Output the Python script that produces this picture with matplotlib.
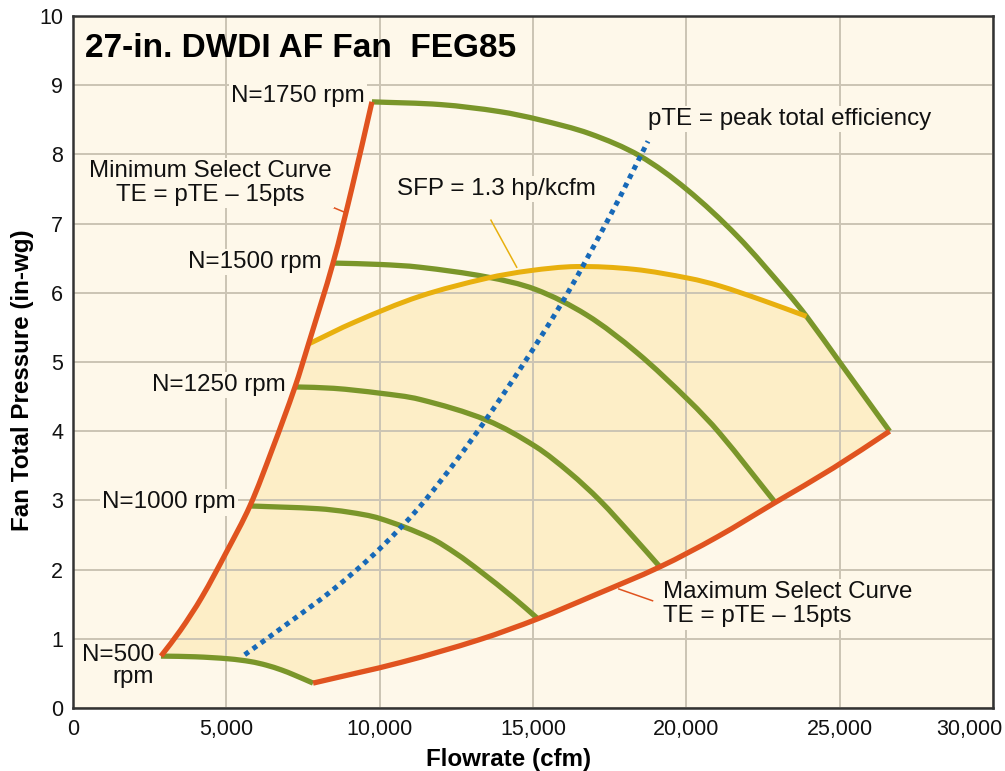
import matplotlib

matplotlib.use("Agg")
import matplotlib.pyplot as plt
import matplotlib.transforms as mtransforms
import numpy as np
from matplotlib.patches import PathPatch
from matplotlib.path import Path

plt.rcParams["font.family"] = ["Liberation Sans", "DejaVu Sans"]

BG = "#fef8ea"
FILL = "#fdeec7"
GRID = "#cbc4b4"
ORANGE = "#e0531f"
GREEN = "#7a962a"
GOLD = "#e8b00e"
BLUE = "#1769b8"

# minimum select curve (left boundary)
min_x = [2870, 3500, 4200, 5000, 5770, 6500, 7240, 7680, 8480, 9100, 9750]
min_y = [0.75, 1.12, 1.60, 2.25, 2.92, 3.74, 4.64, 5.26, 6.43, 7.52, 8.76]

# maximum select curve (right boundary)
max_x = [7830, 10700, 13270, 15160, 17000, 19140, 21000, 22900, 24800, 26630]
max_y = [0.36, 0.66, 0.99, 1.29, 1.63, 2.04, 2.47, 2.97, 3.47, 4.00]

# fan speed curves
n500_x = [2870, 4000, 5100, 5800, 6300, 6800, 7200, 7830]
n500_y = [0.75, 0.74, 0.71, 0.67, 0.62, 0.55, 0.48, 0.36]

n1000_x = [5770, 8000, 9000, 10000, 11640, 12500, 13270, 14350, 15160]
n1000_y = [2.92, 2.88, 2.83, 2.74, 2.46, 2.23, 1.98, 1.60, 1.29]

n1250_x = [7240, 8500, 10000, 11310, 13490, 15080, 16200, 17180, 18260, 19140]
n1250_y = [4.64, 4.62, 4.55, 4.46, 4.16, 3.78, 3.40, 3.00, 2.48, 2.04]

n1500_x = [8480, 10000, 11310, 13490, 15080, 16750, 18380, 20090, 21090, 22900]
n1500_y = [6.43, 6.41, 6.37, 6.23, 6.05, 5.68, 5.14, 4.44, 3.97, 2.97]

n1750_x = [9750, 12000, 13900, 15220, 16850, 18480, 20000, 21660, 23300, 23920, 25000, 26630]
n1750_y = [8.76, 8.72, 8.62, 8.50, 8.30, 7.98, 7.50, 6.82, 6.00, 5.66, 5.00, 4.00]

# specific fan power limit
sfp_x = [7680, 9200, 11310, 13490, 14900, 16420, 18300, 20090, 21090, 22500, 23920]
sfp_y = [5.26, 5.58, 5.95, 6.21, 6.32, 6.38, 6.34, 6.21, 6.10, 5.89, 5.66]

# peak total efficiency
pte_x = [5600, 7000, 8480, 10000, 11500, 13500, 15800, 17500, 18750]
pte_y = [0.77, 1.22, 1.71, 2.30, 3.01, 4.19, 5.75, 7.10, 8.19]

SPEEDS = [
    ("N=500\nrpm", n500_x, n500_y),
    ("N=1000 rpm", n1000_x, n1000_y),
    ("N=1250 rpm", n1250_x, n1250_y),
    ("N=1500 rpm", n1500_x, n1500_y),
    ("N=1750 rpm", n1750_x, n1750_y),
]

# rough screen aspect, used only to space the curve tangents evenly
SCREEN = np.array([1 / 32.6, 69.2])


def smooth(xs, ys):
    """Bezier path through the read points, chord-length Catmull-Rom tangents."""
    p = np.column_stack([xs, ys]).astype(float)
    n = len(p)
    seg = np.hypot(*((np.diff(p, axis=0) * SCREEN).T))
    t = np.concatenate([[0], np.cumsum(seg)])
    tang = np.zeros_like(p)
    tang[0] = (p[1] - p[0]) / (t[1] - t[0])
    tang[-1] = (p[-1] - p[-2]) / (t[-1] - t[-2])
    for i in range(1, n - 1):
        tang[i] = (p[i + 1] - p[i - 1]) / (t[i + 1] - t[i - 1])
    verts, codes = [p[0]], [Path.MOVETO]
    for i in range(n - 1):
        h = t[i + 1] - t[i]
        verts += [p[i] + tang[i] * h / 3, p[i + 1] - tang[i + 1] * h / 3, p[i + 1]]
        codes += [Path.CURVE4] * 3
    return verts, codes


def curve(ax, xs, ys, color, lw, **kw):
    verts, codes = smooth(xs, ys)
    ax.add_patch(PathPatch(Path(verts, codes), fill=False, edgecolor=color,
                           linewidth=lw, capstyle="butt", **kw))


fig = plt.figure(figsize=(10.05, 7.71), dpi=100)
ax = fig.add_axes([0.0726, 0.0817, 0.9154, 0.8975])
ax.set_facecolor(BG)

# selectable region: min curve up to SFP, SFP, top of 1750, max curve, 500 curve
mx, my = np.array(min_x), np.array(min_y)
keep = my <= sfp_y[0]
tx, ty = np.array(n1750_x), np.array(n1750_y)
tail = tx >= sfp_x[-1]
pieces = [
    (mx[keep], my[keep]),
    (sfp_x, sfp_y),
    (tx[tail], ty[tail]),
    (max_x[::-1], max_y[::-1]),
    (n500_x[::-1], n500_y[::-1]),
]
all_v, all_c = [], []
for k, (px, py) in enumerate(pieces):
    v, c = smooth(px, py)
    if k > 0:
        c[0] = Path.LINETO
    all_v += v
    all_c += c
all_v.append(all_v[0])
all_c.append(Path.CLOSEPOLY)
ax.add_patch(PathPatch(Path(all_v, all_c), facecolor=FILL, edgecolor="none", zorder=0.2))

ax.set_axisbelow(True)
ax.grid(True, color=GRID, linewidth=1.4)

for _, xs, ys in SPEEDS:
    curve(ax, xs, ys, GREEN, 3.8, zorder=3)
curve(ax, sfp_x, sfp_y, GOLD, 3.6, zorder=3)
curve(ax, min_x, min_y, ORANGE, 3.8, zorder=4)
curve(ax, max_x, max_y, ORANGE, 3.8, zorder=4)
curve(ax, pte_x, pte_y, BLUE, 3.6, linestyle=(0, (1, 1.0)), zorder=5)

box = dict(facecolor=BG, edgecolor="none", pad=1.5)
lab = dict(fontsize=17.4, color="#111111", bbox=box, zorder=6)

ax.text(390, 9.53, "27-in. DWDI AF Fan  FEG85", fontsize=24, fontweight="bold",
        ha="left", va="center", zorder=6)

label_pos = {
    "N=500\nrpm": (2650, 0.6),
    "N=1000 rpm": (5300, 2.97),
    "N=1250 rpm": (6950, 4.67),
    "N=1500 rpm": (8100, 6.45),
    "N=1750 rpm": (9520, 8.84),
}
for name, (lx, ly) in label_pos.items():
    ax.text(lx, ly, name, ha="right", va="center", multialignment="right",
            linespacing=1.0, **lab)

ax.plot([7860, 8830], [7.35, 7.17], color=ORANGE, linewidth=1.1, zorder=5)
ax.text(4480, 7.59, "Minimum Select Curve\nTE = pTE – 15pts", ha="center",
        va="center", linespacing=1.1, **lab)

ax.plot([17800, 18900], [1.72, 1.55], color=ORANGE, linewidth=1.1, zorder=5)
ax.text(19230, 1.5, "Maximum Select Curve\nTE = pTE – 15pts", ha="left",
        va="center", linespacing=1.15, **lab)

ax.plot([13630, 14470], [7.05, 6.37], color=GOLD, linewidth=1.1, zorder=2.8)
ax.text(10580, 7.5, "SFP = 1.3 hp/kcfm", ha="left", va="center", **lab)

ax.text(18750, 8.51, "pTE = peak total efficiency", ha="left", va="center", **lab)

ax.set_xlim(0, 30000)
ax.set_ylim(0, 10)
ax.set_xticks(np.arange(0, 30001, 5000))
ax.set_yticks(np.arange(0, 11, 1))
ax.xaxis.set_major_formatter(matplotlib.ticker.StrMethodFormatter("{x:,.0f}"))
ax.tick_params(length=0, labelsize=15.5, colors="#111111")
ax.tick_params(axis="x", pad=8)
ax.tick_params(axis="y", pad=7)
for s in ax.spines.values():
    s.set_color("#333333")
    s.set_linewidth(1.8)

# keep the last flow label inside the figure
last = ax.get_xticklabels()[-1]
last.set_transform(last.get_transform()
                   + mtransforms.ScaledTranslation(-24 / 100, 0, fig.dpi_scale_trans))

ax.set_xlabel("Flowrate (cfm)", fontsize=17.4, fontweight="bold")
ax.set_ylabel("Fan Total Pressure (in-wg)", fontsize=17.4, fontweight="bold")
ax.xaxis.set_label_coords(0.473, -0.058)
ax.yaxis.set_label_coords(-0.042, 0.474)

fig.savefig("out.png", dpi=100, facecolor="white")
